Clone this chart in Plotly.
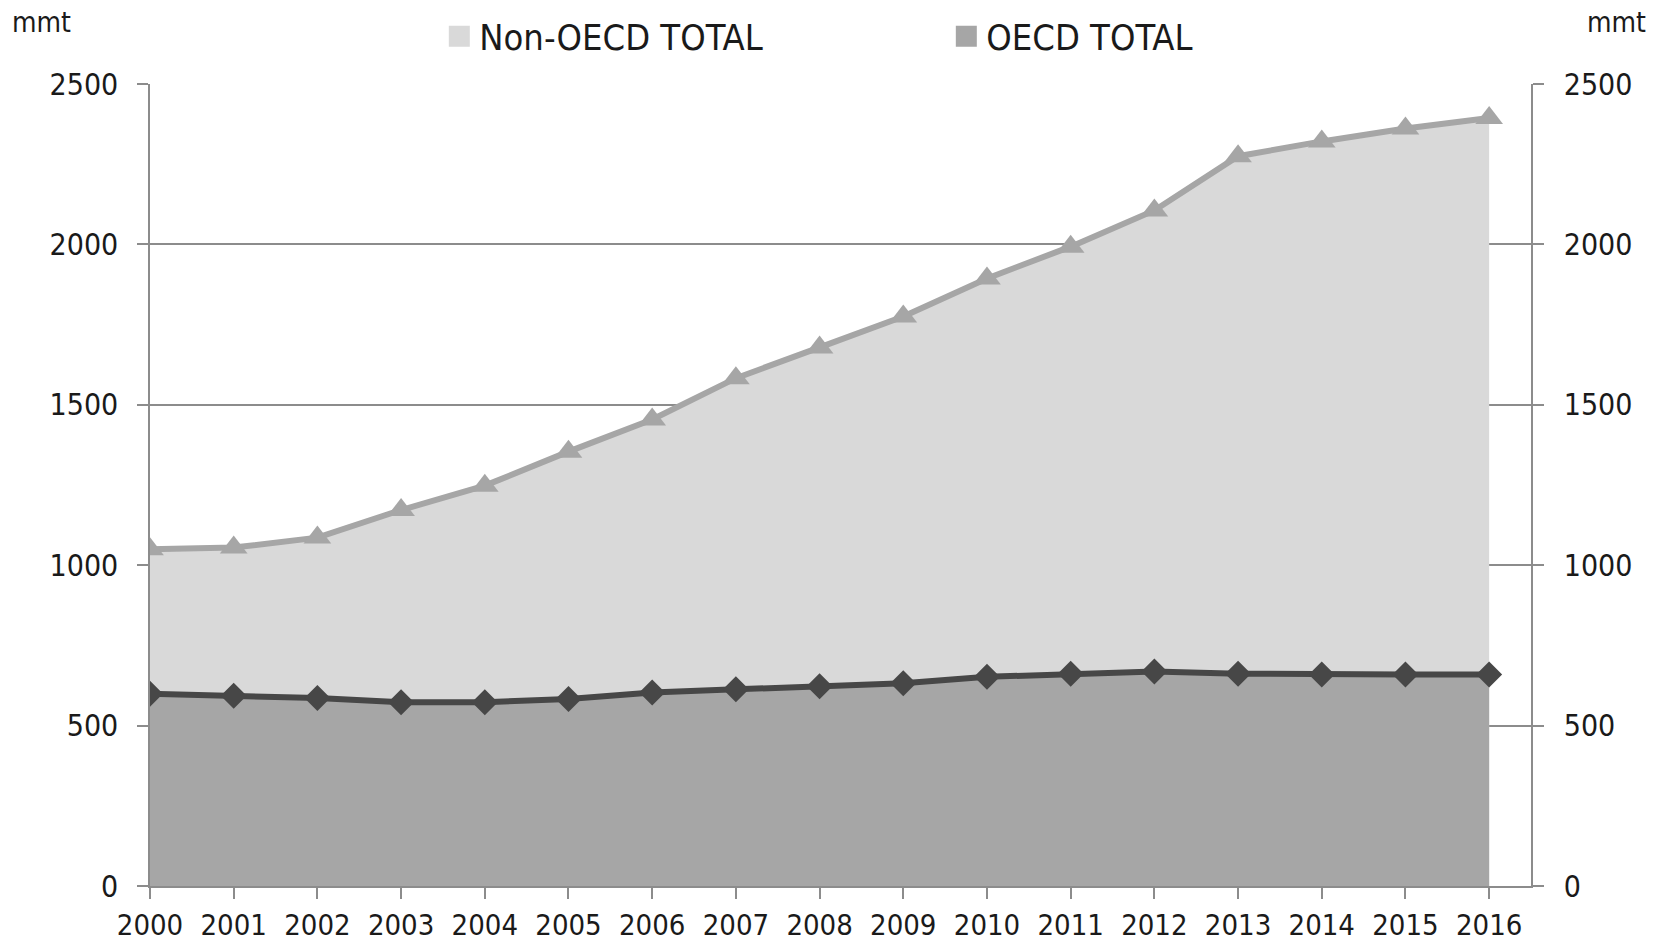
import plotly.graph_objects as go

years = list(range(2000, 2017))
non_oecd_total = [1050, 1055, 1086, 1172, 1248, 1354, 1454, 1583, 1679, 1775, 1894, 1993, 2106, 2275, 2321, 2361, 2394]
oecd_total = [599, 593, 586, 573, 573, 583, 603, 613, 623, 632, 652, 662, 669, 662, 659, 659, 659]
y_ticks = [0, 500, 1000, 1500, 2000, 2500]

LIGHT = "#d9d9d9"
MID = "#a6a6a6"
DARK = "#474747"
AXIS = "#8c8c8c"
TXT = "#1a1a1a"
FONT = "Liberation Sans Narrow, DejaVu Sans Condensed, Open Sans, sans-serif"

fig = go.Figure()
fig.add_trace(go.Scatter(x=years, y=non_oecd_total, mode="none", fill="tozeroy",
                         fillcolor=LIGHT, showlegend=False, hoverinfo="skip"))
fig.add_trace(go.Scatter(x=years, y=oecd_total, mode="none", fill="tozeroy",
                         fillcolor=MID, showlegend=False, hoverinfo="skip"))
fig.add_trace(go.Scatter(x=years, y=non_oecd_total, mode="lines+markers",
                         line=dict(color=MID, width=6),
                         marker=dict(symbol="triangle-up", size=24, color=MID),
                         showlegend=False))
fig.add_trace(go.Scatter(x=years, y=oecd_total, mode="lines+markers",
                         line=dict(color=DARK, width=6),
                         marker=dict(symbol="diamond", size=20, color=DARK),
                         showlegend=False))
# legend entries
fig.add_trace(go.Scatter(x=[None], y=[None], mode="markers", name="Non-OECD TOTAL",
                         marker=dict(symbol="square", size=16, color=LIGHT,
                                     line=dict(color=LIGHT, width=6))))
fig.add_trace(go.Scatter(x=[None], y=[None], mode="markers", name="OECD TOTAL",
                         marker=dict(symbol="square", size=16, color=MID,
                                     line=dict(color=MID, width=6))))
# dummy trace to activate right axis
fig.add_trace(go.Scatter(x=[None], y=[None], yaxis="y2", showlegend=False, hoverinfo="skip"))

fig.update_layout(
    width=1663, height=942,
    margin=dict(l=149.7, r=132.3, t=84, b=56.3, autoexpand=False),
    paper_bgcolor="white", plot_bgcolor="white",
    font=dict(family=FONT, color=TXT, size=29),
    legend=dict(orientation="h", x=0.2095, xanchor="left", y=1.0595, yanchor="middle",
                font=dict(size=36, family=FONT, color=TXT), entrywidth=462,
                itemsizing="trace", bgcolor="rgba(0,0,0,0)"),
    xaxis=dict(range=[2000, 2016.5], tickvals=years, ticktext=[str(y) for y in years],
               showgrid=False, zeroline=False, showline=True, linecolor=AXIS, linewidth=1.5,
               ticks="outside", ticklen=11, tickcolor=AXIS, tickwidth=1.5, automargin=False,
               ticklabelstandoff=1, tickfont=dict(size=29, family=FONT, color=TXT)),
    yaxis=dict(range=[0, 2500], tickvals=y_ticks, showgrid=True, gridcolor=AXIS, gridwidth=1.5,
               zeroline=False, showline=True, linecolor=AXIS, linewidth=1.5,
               ticks="outside", ticklen=11, tickcolor=AXIS, tickwidth=1.5, automargin=False,
               ticklabelstandoff=13, tickfont=dict(size=30, family=FONT, color=TXT)),
    yaxis2=dict(range=[0, 2500], tickvals=y_ticks, overlaying="y", side="right",
                showgrid=False, zeroline=False, showline=True, linecolor=AXIS, linewidth=1.5,
                ticks="outside", ticklen=11, tickcolor=AXIS, tickwidth=1.5, automargin=False,
                ticklabelstandoff=14, tickfont=dict(size=30, family=FONT, color=TXT)),
    annotations=[
        dict(text="mmt", xref="paper", yref="paper", x=-0.0787, y=1.0773, xanchor="center",
             yanchor="middle", showarrow=False, font=dict(size=28, family=FONT, color=TXT)),
        dict(text="mmt", xref="paper", yref="paper", x=1.0618, y=1.0773, xanchor="center",
             yanchor="middle", showarrow=False, font=dict(size=28, family=FONT, color=TXT)),
    ],
)

fig.write_html("out.html", config={"displayModeBar": False},
               post_script="document.body.style.margin='0';document.body.style.overflow='hidden';")
